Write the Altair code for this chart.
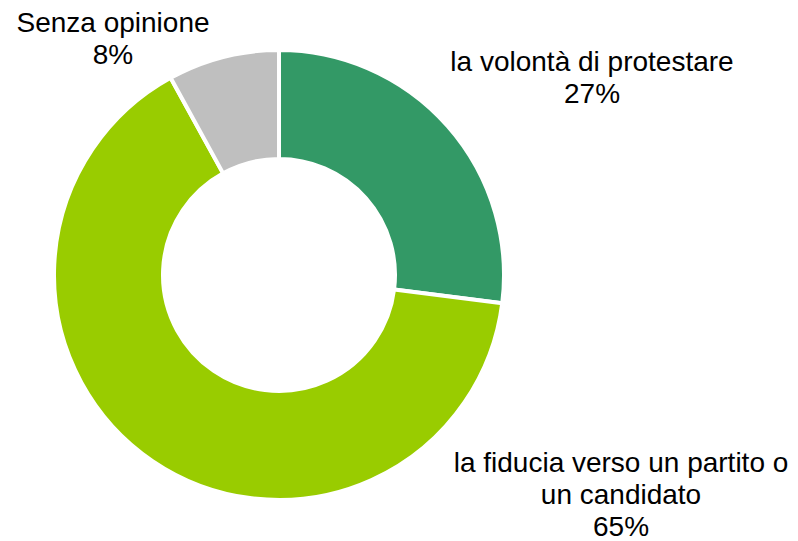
import altair as alt
import pandas as pd

# ---- data ----
categories = ["la volontà di protestare",
              "la fiducia verso un partito o\nun candidato",
              "Senza opinione"]
values = [27, 65, 8]
order = [1, 2, 3]
colors = ["#339966", "#99CC00", "#BFBFBF"]

df = pd.DataFrame({"categoria": categories, "valore": values, "ordine": order})

# ---- layout (chart coords) ----
CX, CY = 271, 267
OUTER, INNER = 225, 116
label_pos = {
    categories[0]: (584, 63),
    categories[1]: (613, 464),
    categories[2]: (105, 24),
}
FONT = "Liberation Sans, Arial, sans-serif"
FS = 28
LH = 32

arc = alt.Chart(df).mark_arc(
    outerRadius=OUTER, innerRadius=INNER, stroke="white", strokeWidth=4
).encode(
    theta=alt.Theta("valore:Q", stack=True),
    order=alt.Order("ordine:Q"),
    color=alt.Color("categoria:N",
                    scale=alt.Scale(domain=categories, range=colors),
                    legend=None),
    x=alt.value(CX),
    y=alt.value(CY),
)

layers = [arc]
for cat, val in zip(categories, values):
    px, py = label_pos[cat]
    txt = f"{cat}\n{val}%"
    layers.append(
        alt.Chart(pd.DataFrame({"t": [txt]})).mark_text(
            font=FONT, fontSize=FS, color="#000000", align="center",
            baseline="alphabetic", lineBreak="\n", lineHeight=LH
        ).encode(text="t:N", x=alt.value(px), y=alt.value(py))
    )

chart = alt.layer(*layers).properties(
    width=782, height=533, padding=0,
    autosize=alt.AutoSizeParams(type="none"),
).configure_view(stroke=None)

chart.save("out.html", embed_options={"renderer": "svg", "actions": False})
